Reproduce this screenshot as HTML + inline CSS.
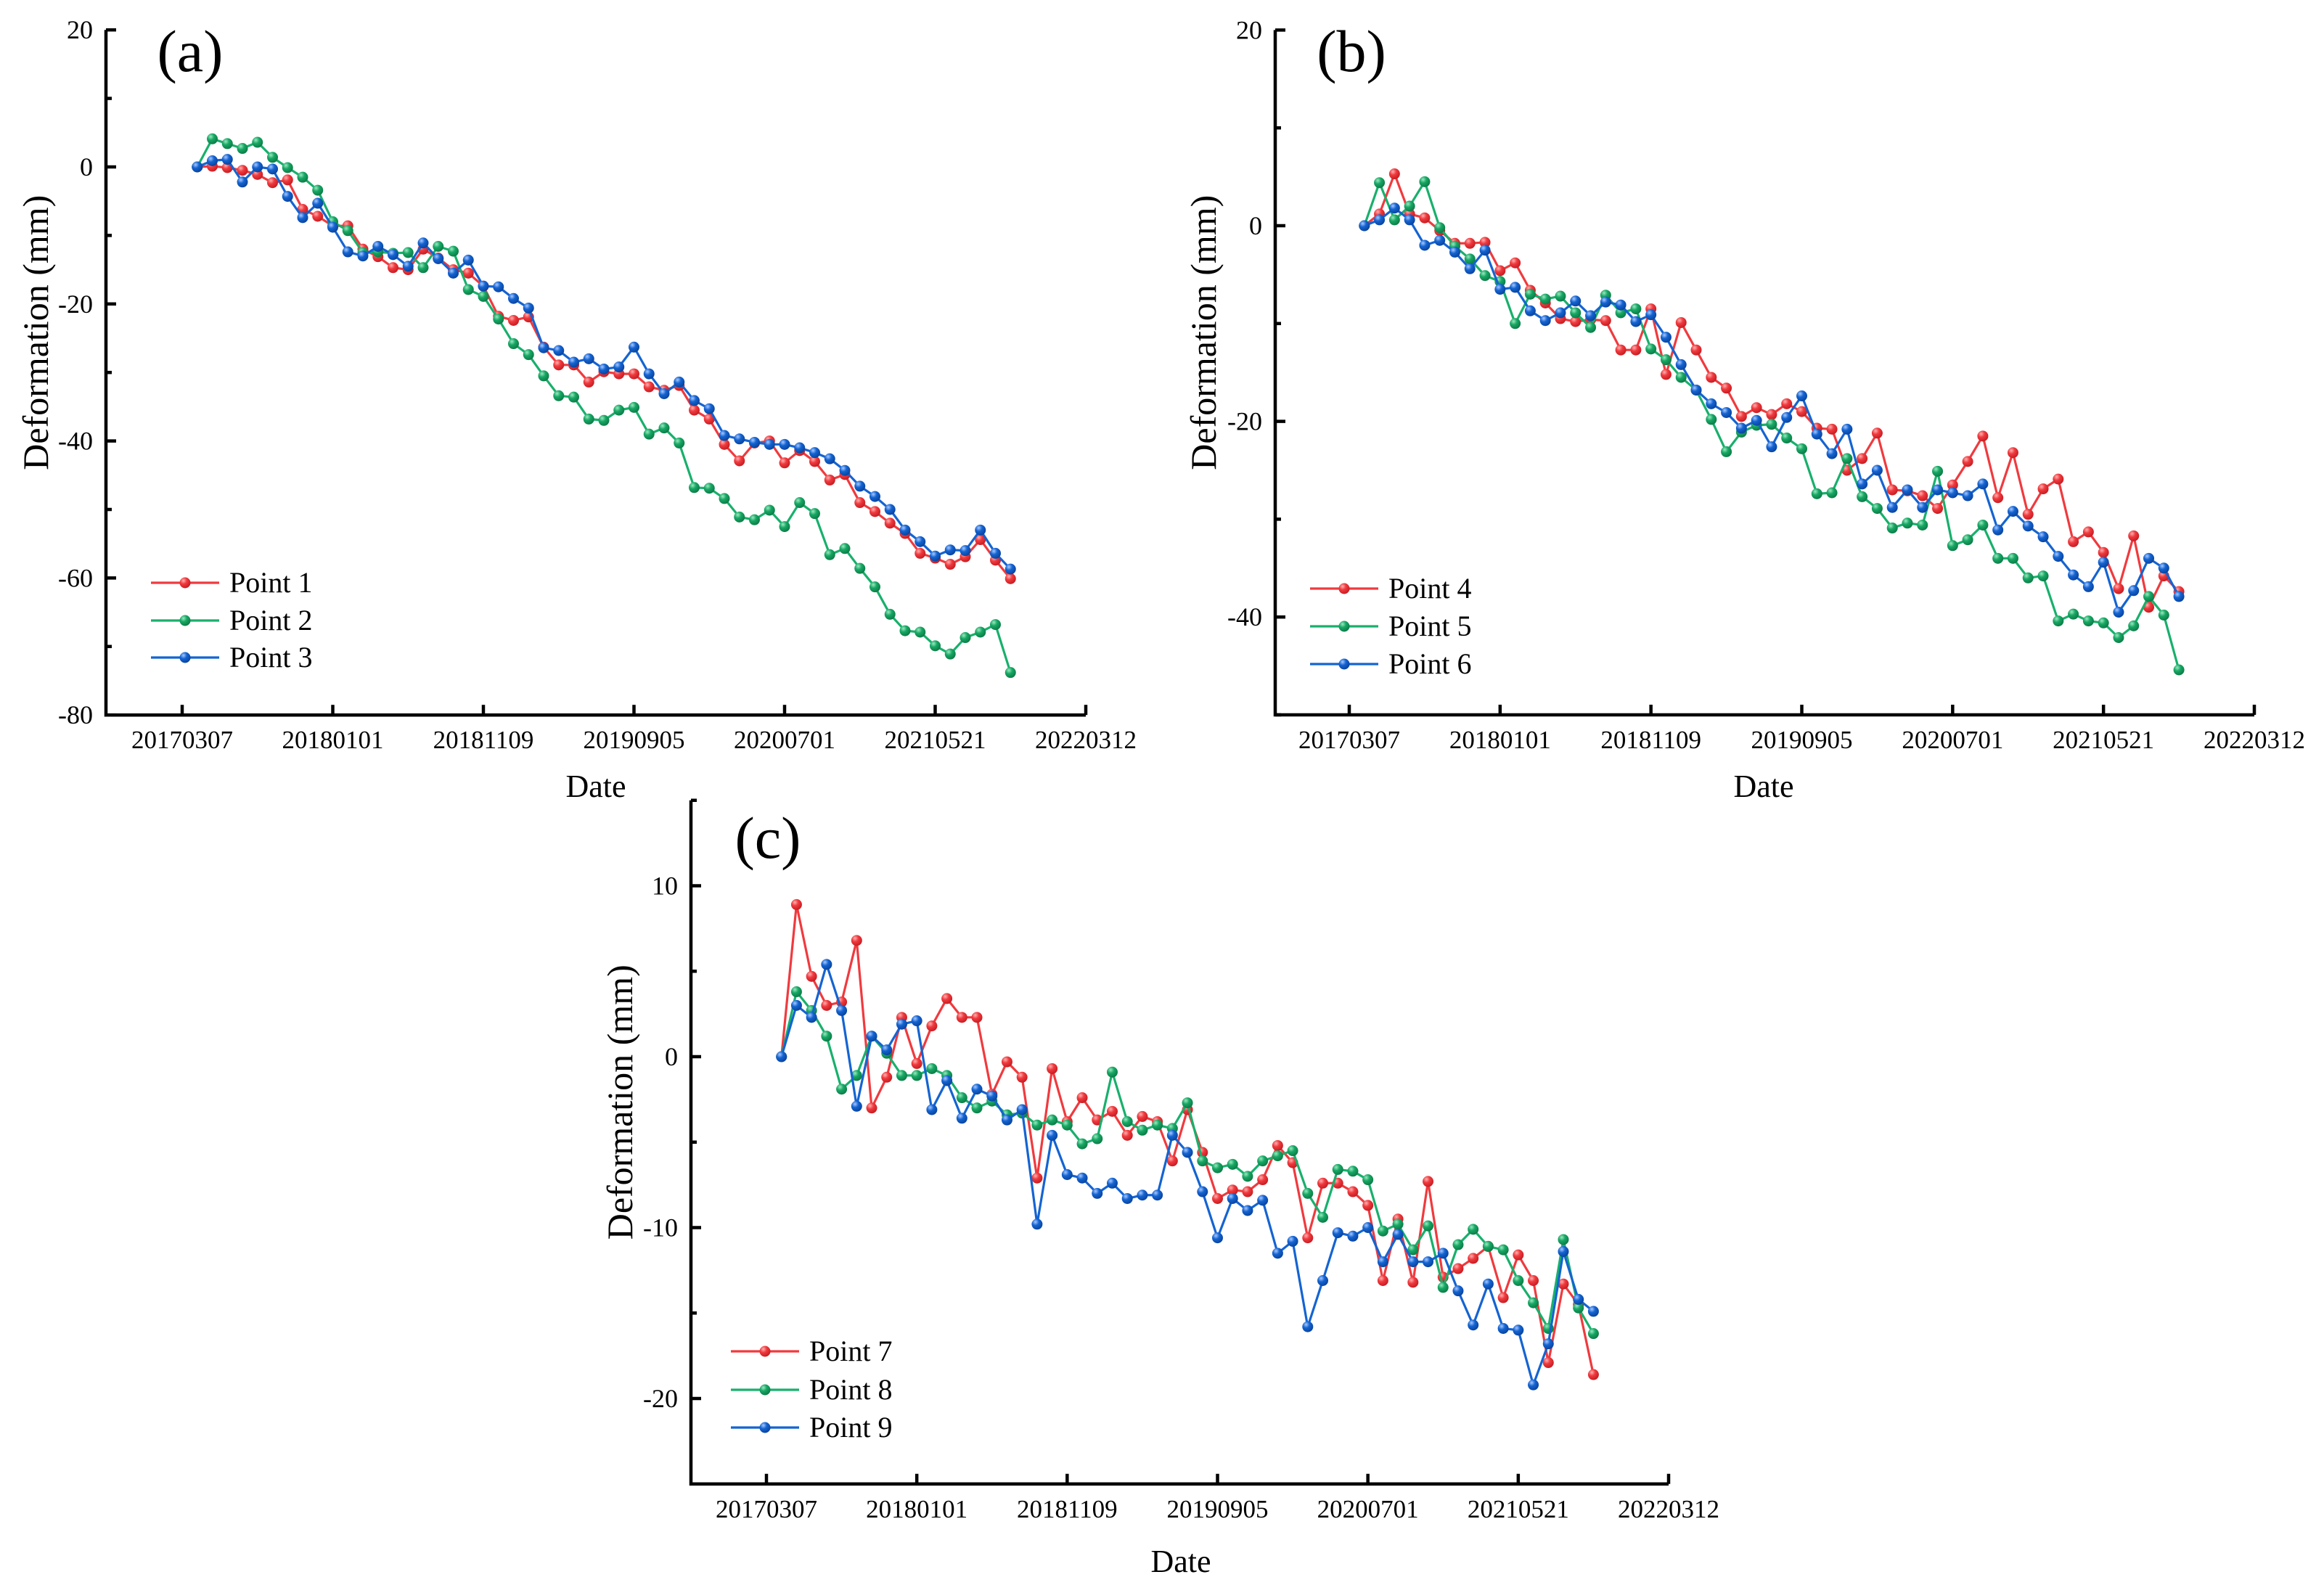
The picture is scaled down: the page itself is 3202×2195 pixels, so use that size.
<!DOCTYPE html>
<html><head><meta charset="utf-8">
<style>
html,body{margin:0;padding:0;background:#fff;}
svg{display:block;font-family:"Liberation Serif","DejaVu Serif",serif;}
</style></head>
<body>
<svg id="chart" width="3202" height="2195" viewBox="0 0 3202 2195" xmlns="http://www.w3.org/2000/svg">
<defs>
<radialGradient id="gr" cx="35%" cy="30%" r="70%"><stop offset="0" stop-color="#ffb0b0"/><stop offset="0.45" stop-color="#f03a3e"/><stop offset="1" stop-color="#c81e24"/></radialGradient>
<radialGradient id="gg" cx="35%" cy="30%" r="70%"><stop offset="0" stop-color="#9ce8c0"/><stop offset="0.45" stop-color="#17a864"/><stop offset="1" stop-color="#0d7d48"/></radialGradient>
<radialGradient id="gb" cx="35%" cy="30%" r="70%"><stop offset="0" stop-color="#a8c8ff"/><stop offset="0.45" stop-color="#1464d2"/><stop offset="1" stop-color="#0a45a0"/></radialGradient>
</defs>
</svg>
<script>
// x positions are in tenths of a date-tick interval (1..55)
const dateTicks = ["20170307","20180101","20181109","20190905","20200701","20210521","20220312"];
const p1 = [0,0.1,-0.1,-0.5,-1.1,-2.3,-1.9,-6.2,-7.2,-8.6,-8.6,-12,-13.1,-14.7,-15,-12,-13.3,-15,-15.5,-17.4,-21.8,-22.4,-21.9,-26.3,-28.9,-28.9,-31.4,-29.9,-30.2,-30.2,-32.1,-32.6,-31.9,-35.5,-36.8,-40.5,-42.9,-40.3,-40,-43.2,-41.4,-43,-45.7,-44.9,-49,-50.3,-52,-53.5,-56.4,-57.1,-58,-56.9,-54.4,-57.4,-60.1];
const p2 = [0,4.1,3.4,2.7,3.6,1.4,-0.1,-1.5,-3.4,-8,-9.3,-12.5,-12.4,-12.6,-12.5,-14.7,-11.6,-12.3,-17.9,-18.9,-22.2,-25.8,-27.4,-30.5,-33.4,-33.6,-36.8,-37,-35.5,-35.1,-39,-38.1,-40.3,-46.8,-46.9,-48.4,-51.1,-51.5,-50.1,-52.5,-49,-50.6,-56.6,-55.7,-58.6,-61.3,-65.3,-67.7,-67.9,-69.9,-71.1,-68.7,-67.9,-66.8,-73.8];
const p3 = [0,0.9,1.1,-2.2,0,-0.3,-4.3,-7.4,-5.3,-8.8,-12.4,-13,-11.6,-12.8,-14.5,-11.1,-13.4,-15.5,-13.6,-17.4,-17.5,-19.2,-20.6,-26.4,-26.8,-28.5,-28,-29.5,-29.2,-26.3,-30.2,-33.1,-31.4,-34.1,-35.3,-39.2,-39.7,-40.2,-40.5,-40.5,-41,-41.7,-42.6,-44.3,-46.6,-48.1,-50,-53,-54.7,-56.8,-55.9,-56,-53,-56.4,-58.7];
const p4 = [0,1.2,5.3,1.2,0.8,-0.5,-1.8,-1.8,-1.7,-4.6,-3.8,-6.6,-7.9,-9.5,-9.8,-9.6,-9.7,-12.7,-12.7,-8.5,-15.2,-9.9,-12.7,-15.5,-16.6,-19.5,-18.6,-19.3,-18.2,-19,-20.7,-20.8,-25,-23.8,-21.2,-27,-27.1,-27.6,-28.9,-26.5,-24.1,-21.5,-27.8,-23.2,-29.5,-26.9,-25.9,-32.3,-31.3,-33.4,-37.1,-31.7,-39,-35.8,-37.4];
const p5 = [0,4.4,0.6,2,4.5,-0.2,-2.1,-3.4,-5.1,-5.7,-10,-7,-7.5,-7.2,-8.9,-10.4,-7.1,-8.9,-8.5,-12.6,-13.7,-15.5,-16.8,-19.8,-23.1,-21.1,-20.4,-20.3,-21.7,-22.8,-27.4,-27.3,-23.8,-27.7,-28.9,-30.9,-30.4,-30.6,-25.1,-32.7,-32.1,-30.6,-34,-34,-36,-35.8,-40.4,-39.7,-40.4,-40.6,-42.1,-40.9,-37.9,-39.8,-45.4];
const p6 = [0,0.6,1.8,0.6,-2,-1.5,-2.7,-4.4,-2.5,-6.5,-6.3,-8.7,-9.7,-8.9,-7.7,-9.2,-7.8,-8.1,-9.8,-9.1,-11.4,-14.2,-16.8,-18.2,-19.1,-20.7,-19.9,-22.6,-19.6,-17.4,-21.3,-23.3,-20.8,-26.4,-25,-28.8,-27,-28.8,-27,-27.3,-27.6,-26.4,-31.1,-29.2,-30.7,-31.8,-33.8,-35.7,-36.9,-34.4,-39.5,-37.3,-34,-35,-37.9];
const p7 = [0,8.9,4.7,3,3.2,6.8,-3,-1.2,2.3,-0.4,1.8,3.4,2.3,2.3,-2.2,-0.3,-1.2,-7.1,-0.7,-3.8,-2.4,-3.7,-3.2,-4.6,-3.5,-3.8,-6.1,-3.1,-5.6,-8.3,-7.8,-7.9,-7.2,-5.2,-6.2,-10.6,-7.4,-7.4,-7.9,-8.7,-13.1,-9.5,-13.2,-7.3,-12.9,-12.4,-11.8,-11.1,-14.1,-11.6,-13.1,-17.9,-13.3,-14.5,-18.6];
const p8 = [0,3.8,2.7,1.2,-1.9,-1.1,1.2,0.2,-1.1,-1.1,-0.7,-1.1,-2.4,-3,-2.6,-3.4,-3.3,-4,-3.7,-4,-5.1,-4.8,-0.9,-3.8,-4.3,-4,-4.2,-2.7,-6.1,-6.5,-6.3,-7,-6.1,-5.8,-5.5,-8,-9.4,-6.6,-6.7,-7.2,-10.2,-9.8,-11.3,-9.9,-13.5,-11,-10.1,-11.1,-11.3,-13.1,-14.4,-15.9,-10.7,-14.7,-16.2];
const p9 = [0,3,2.3,5.4,2.7,-2.9,1.2,0.4,1.9,2.1,-3.1,-1.4,-3.6,-1.9,-2.3,-3.7,-3.1,-9.8,-4.6,-6.9,-7.1,-8,-7.4,-8.3,-8.1,-8.1,-4.6,-5.6,-7.9,-10.6,-8.3,-9,-8.4,-11.5,-10.8,-15.8,-13.1,-10.3,-10.5,-10,-12,-10.4,-12,-12,-11.5,-13.7,-15.7,-13.3,-15.9,-16,-19.2,-16.8,-11.4,-14.2,-14.9];
const yTicksA = [20,0,-20,-40,-60,-80];
const yTicksB = [20,0,-20,-40];
const yTicksC = [10,0,-10,-20];

const NS = "http://www.w3.org/2000/svg";
const svg = document.getElementById("chart");
function mk(tag, attrs, parent, txt){
  const e = document.createElementNS(NS, tag);
  for (const k in attrs) e.setAttribute(k, attrs[k]);
  if (txt !== undefined) e.textContent = txt;
  (parent || svg).appendChild(e);
  return e;
}
const COL = {r:"#f03a3e", g:"#18b06c", b:"#1464d2"};
const GRAD = {r:"url(#gr)", g:"url(#gg)", b:"url(#gb)"};

function panel(cfg){
  const grp = mk("g", {});
  
  
  const xs = k => cfg.x0 + (cfg.x6 - cfg.x0) * k / 60;
  const ys = v => cfg.yZero - (v) * cfg.ppu;
  const yTop = ys(cfg.yMax), yBot = ys(cfg.yMin);
  const ax = mk("path", {d:`M${cfg.left} ${yTop} L${cfg.left} ${yBot} L${cfg.x6} ${yBot}`, fill:"none", stroke:"#000", "stroke-width":4.5}, grp);
  
  
  for (let v = cfg.yMax; v >= cfg.yMin; v -= cfg.minor){
    const major = cfg.yLabels.indexOf(v) >= 0;
    mk("line", {x1:cfg.left, x2:cfg.left + (major?14:8), y1:ys(v), y2:ys(v), stroke:"#000", "stroke-width":4.5}, grp);
  }
  cfg.yLabels.forEach(v => {
    const t = mk("text", {x:cfg.left - 18, y:ys(v) + 12, "text-anchor":"end", "font-size":36}, grp, String(v));
    
    
  });
  dateTicks.forEach((d, i) => {
    const x = xs(i * 10);
    mk("line", {x1:x, x2:x, y1:yBot, y2:yBot - 14, stroke:"#000", "stroke-width":4.5}, grp);
    const t = mk("text", {x:x, y:yBot + 46, "text-anchor":"middle", "font-size":35}, grp, d);
    
    
  });
  const yt = mk("text", {x:0, y:0, "text-anchor":"middle", "font-size":50, transform:`translate(${cfg.yTitleX},${(yTop+yBot)/2 + cfg.yTitleShift}) rotate(-90)`}, grp, "Deformation (mm)");
  
  
  const xt = mk("text", {x:cfg.dateX, y:cfg.dateY, "text-anchor":"middle", "font-size":44}, grp, "Date");
  
  
  const pl = mk("text", {x:cfg.labX, y:cfg.labY, "text-anchor":"middle", "font-size":82}, grp, "(" + cfg.id + ")");
  
  
  cfg.series.forEach((s, si) => {
    const sg = mk("g", {}, grp);
    
    
    const pts = s.vals.map((v, i) => [xs(i + 1), ys(v)]);
    mk("polyline", {points: pts.map(p => p.join(",")).join(" "), fill:"none", stroke:COL[s.c], "stroke-width":3.2, "stroke-linejoin":"round"}, sg);
    pts.forEach(p => {
      const c = mk("circle", {cx:p[0], cy:p[1], r:7.5, fill:GRAD[s.c]}, sg);
      
      
    });
    const ly = cfg.legY[si];
    const lg = mk("g", {}, grp);
    
    
    mk("line", {x1:cfg.legX, x2:cfg.legX + 94, y1:ly, y2:ly, stroke:COL[s.c], "stroke-width":3.2}, lg);
    mk("circle", {cx:cfg.legX + 47, cy:ly, r:7.5, fill:GRAD[s.c]}, lg);
    mk("text", {x:cfg.legX + 108, y:ly + 13, "font-size":40}, lg, s.name);
  });
}

panel({id:"a", left:146, x0:251, x6:1496, yZero:230, ppu:9.44, yMax:20, yMin:-80, minor:10, yLabels:yTicksA,
  yTitleX:66, yTitleShift:-55, dateX:821, dateY:1098, labX:262, labY:98, legX:208, legY:[803,855,906],
  series:[{name:"Point 1", c:"r", vals:p1},{name:"Point 2", c:"g", vals:p2},{name:"Point 3", c:"b", vals:p3}]});
panel({id:"b", left:1757, x0:1859, x6:3106, yZero:311, ppu:13.48, yMax:20, yMin:-50, minor:10, yLabels:yTicksB,
  yTitleX:1675, yTitleShift:-55, dateX:2430, dateY:1098, labX:1862, labY:98, legX:1805, legY:[811,863,915],
  series:[{name:"Point 4", c:"r", vals:p4},{name:"Point 5", c:"g", vals:p5},{name:"Point 6", c:"b", vals:p6}]});
panel({id:"c", left:952, x0:1056, x6:2299, yZero:1456, ppu:23.55, yMax:15, yMin:-25, minor:5, yLabels:yTicksC,
  yTitleX:871, yTitleShift:-55, dateX:1627, dateY:2166, labX:1058, labY:1182, legX:1007, legY:[1862,1915,1967],
  series:[{name:"Point 7", c:"r", vals:p7},{name:"Point 8", c:"g", vals:p8},{name:"Point 9", c:"b", vals:p9}]});
</script>
</body></html>
